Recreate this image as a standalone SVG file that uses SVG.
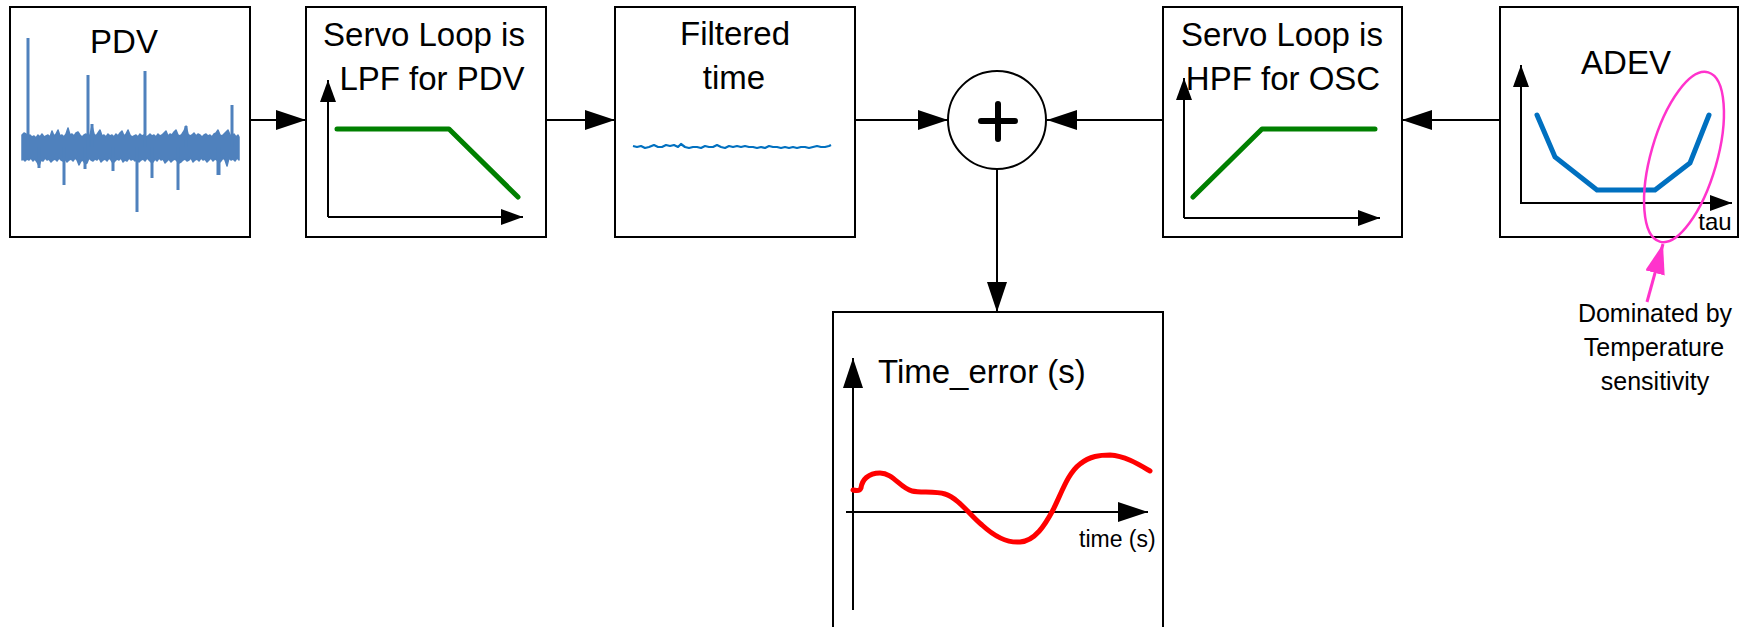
<svg xmlns="http://www.w3.org/2000/svg" width="1742" height="627" viewBox="0 0 1742 627">
  <style>
    .box { fill: #ffffff; stroke: #000000; stroke-width: 2; }
    .lbl { font-family: "Liberation Sans", Arial, sans-serif; font-size: 33px; fill: #000000; text-anchor: middle; }
    .small { font-family: "Liberation Sans", Arial, sans-serif; font-size: 24px; fill: #000000; }
    .note { font-family: "Liberation Sans", Arial, sans-serif; font-size: 25px; fill: #000000; text-anchor: middle; }
    .conn { fill: none; stroke: #000000; stroke-width: 2; marker-end: url(#ah); }
    .axis { fill: none; stroke: #000000; stroke-width: 2; marker-end: url(#ahs); }
    .axisL { fill: none; stroke: #000000; stroke-width: 2; marker-end: url(#ah); }
    .green { fill: none; stroke: #008000; stroke-width: 5; stroke-linecap: round; stroke-linejoin: round; }
    .blue { fill: none; stroke: #0070C0; stroke-width: 5; stroke-linecap: round; stroke-linejoin: miter; }
  </style>
  <defs>
    <marker id="ah" viewBox="0 0 30 20" refX="30" refY="10" markerWidth="30" markerHeight="20" markerUnits="userSpaceOnUse" orient="auto">
      <path d="M0,0 L30,10 L0,20 z" fill="#000000"/>
    </marker>
    <marker id="ahs" viewBox="0 0 22 16" refX="22" refY="8" markerWidth="22" markerHeight="16" markerUnits="userSpaceOnUse" orient="auto">
      <path d="M0,0 L22,8 L0,16 z" fill="#000000"/>
    </marker>
    <marker id="ahp" viewBox="0 0 30 20" refX="30" refY="10" markerWidth="30" markerHeight="20" markerUnits="userSpaceOnUse" orient="auto">
      <path d="M0,0 L30,10 L0,20 z" fill="#FF33CC"/>
    </marker>
  </defs>

  <!-- connectors -->
  <g id="connectors">
    <path class="conn" d="M251,120 H306"/>
    <path class="conn" d="M546,120 H615"/>
    <path class="conn" d="M855,120 H948"/>
    <path class="conn" d="M1163,120 H1047"/>
    <path class="conn" d="M1500,120 H1402"/>
    <path class="conn" d="M997,169 V312"/>
  </g>

  <!-- PDV: raw packet delay variation -->
  <g id="pdv">
    <rect class="box" x="10" y="7" width="240" height="230"/>
    <text class="lbl" x="124" y="53">PDV</text>
    <polygon fill="#4F81BD" stroke="#4F81BD" stroke-width="1.5" stroke-linejoin="round" points="22,135 24,133 26,134 28,136 30,135 32,137 34,136 36,138 38,135 40,137 42,134 44,137 46,136 48,135 50,137 52,131 54,136 56,134 58,130 60,136 62,135 64,137 66,134 68,128 70,135 72,134 74,136 76,133 78,132 80,135 82,137 84,135 86,134 88,136 90,135 92,126 94,134 96,136 98,133 100,130 102,136 104,135 106,137 108,134 110,136 112,135 114,137 116,134 118,136 120,133 122,131 124,136 126,134 128,130 130,135 132,137 134,136 136,135 138,137 140,134 142,136 144,135 146,137 148,136 150,134 152,136 154,135 156,137 158,134 160,136 162,135 164,133 166,131 168,136 170,134 172,135 174,132 176,130 178,135 180,136 182,134 184,131 186,126 188,134 190,136 192,135 194,133 196,136 198,134 200,135 202,137 204,135 206,134 208,136 210,135 212,137 214,134 216,133 218,130 220,135 222,136 224,134 226,132 228,130 230,135 232,136 234,134 236,137 238,135 239,137 239,160 237,158 235,161 233,159 231,160 229,158 227,166 225,160 223,158 221,161 219,163 217,160 215,159 213,161 211,158 209,160 207,162 205,159 203,160 201,158 199,161 197,159 195,160 193,162 191,158 189,160 187,161 185,159 183,160 181,162 179,163 177,161 175,159 173,160 171,162 169,159 167,161 165,163 163,159 161,160 159,158 157,161 155,159 153,162 151,162 149,160 147,158 145,161 143,159 141,160 139,162 137,159 135,161 133,159 131,160 129,158 127,161 125,160 123,162 121,158 119,160 117,159 115,161 113,163 111,160 109,158 107,161 105,159 103,160 101,162 99,158 97,160 95,159 93,161 91,160 89,158 87,163 85,164 83,160 81,161 79,165 77,160 75,158 73,161 71,159 69,160 67,162 65,159 63,161 61,160 59,158 57,161 55,159 53,160 51,162 49,159 47,160 45,158 43,161 41,160 39,166 37,162 35,159 33,161 31,158 29,160 27,159 25,161 23,159 22,160"/>
    <path fill="none" stroke="#4F81BD" stroke-width="3" d="M28,38 V147 M88,75 V147 M92,124 V147 M145,71 V147 M186,126 V147 M232,105 V147 M64,147 V185 M137,147 V212 M178,147 V190 M218,147 V175 M152,147 V178 M85,147 V169 M113,147 V171 M219,147 V175 M39,147 V168"/>
  </g>

  <!-- low-pass response of the servo loop -->
  <g id="lpf">
    <rect class="box" x="306" y="7" width="240" height="230"/>
    <text class="lbl" x="424" y="46">Servo Loop is</text>
    <text class="lbl" x="432" y="90">LPF for PDV</text>
    <path class="axis" d="M328,217 V80"/>
    <path class="axis" d="M328,217 H523"/>
    <polyline class="green" points="337,129 449,129 518,197"/>
  </g>

  <!-- filtered time -->
  <g id="filtered">
    <rect class="box" x="615" y="7" width="240" height="230"/>
    <text class="lbl" x="735" y="45">Filtered</text>
    <text class="lbl" x="734" y="89">time</text>
    <path fill="none" stroke="#0070C0" stroke-width="2.2" stroke-linejoin="round" d="M633,146 l4,1 l4,-1 l4,2 l4,-1 l5,-2 l4,2 l4,0 l4,-2 l4,1 l4,-1 l4,2 l3,-3 l4,3 l4,1 l4,-1 l4,0 l4,1 l4,-2 l4,1 l4,0 l4,-2 l4,2 l4,1 l4,-2 l4,1 l4,-1 l4,1 l4,-1 l4,1 l4,0 l4,1 l4,-1 l4,1 l4,-2 l4,1 l4,0 l4,1 l4,-1 l4,1 l4,-1 l4,1 l4,-1 l4,0 l4,1 l4,-1 l4,-1 l4,1 l4,0 l4,-1 l2,-1"/>
  </g>

  <!-- summing junction -->
  <g id="sum">
    <circle cx="997" cy="120" r="49" fill="#ffffff" stroke="#000000" stroke-width="2"/>
    <path d="M981,121 H1015 M998,104 V139" stroke="#000000" stroke-width="6" stroke-linecap="round" fill="none"/>
  </g>

  <!-- high-pass response of the servo loop -->
  <g id="hpf">
    <rect class="box" x="1163" y="7" width="239" height="230"/>
    <text class="lbl" x="1282" y="46">Servo Loop is</text>
    <text class="lbl" x="1283" y="90">HPF for OSC</text>
    <path class="axis" d="M1184,218 V78"/>
    <path class="axis" d="M1184,218 H1380"/>
    <polyline class="green" points="1193,197 1262,129 1375,129"/>
  </g>

  <!-- oscillator Allan deviation -->
  <g id="adev">
    <rect class="box" x="1500" y="7" width="238" height="230"/>
    <text class="lbl" x="1626" y="74">ADEV</text>
    <path class="axis" d="M1521,204 V65"/>
    <path class="axis" d="M1521,203 H1732"/>
    <polyline class="blue" points="1537,115 1555,157 1597,190 1655,190 1690,163 1709,115"/>
    <text class="small" x="1715" y="230" text-anchor="middle">tau</text>
    <ellipse cx="1684" cy="157" rx="33" ry="88" transform="rotate(16 1684 157)" fill="none" stroke="#FF33CC" stroke-width="2.5"/>
  </g>

  <!-- annotation on the long-tau region -->
  <g id="note">
    <path d="M1647,302 L1663,244" fill="none" stroke="#FF33CC" stroke-width="3" marker-end="url(#ahp)"/>
    <text class="note" x="1655" y="322">Dominated by</text>
    <text class="note" x="1654" y="356">Temperature</text>
    <text class="note" x="1655" y="390">sensitivity</text>
  </g>

  <!-- resulting time error -->
  <g id="time-error">
    <rect class="box" x="833" y="312" width="330" height="340"/>
    <path class="axisL" d="M853,610 V358"/>
    <path class="axisL" d="M846,512 H1148"/>
    <text class="lbl" x="878" y="383" style="text-anchor:start">Time_error (s)</text>
    <text class="small" x="1079" y="547" style="font-size:23px">time (s)</text>
    <path fill="none" stroke="#FF0000" stroke-width="5" stroke-linecap="round" stroke-linejoin="round" d="M853,490 C857,491 860,491 861,488 C862,480 868,473 880,473 C893,473 900,488 912,491 C920,493 935,491 945,494 C958,498 970,515 982,525 C995,537 1008,543 1020,542 C1035,541 1045,525 1053,510 C1062,492 1068,473 1080,464 C1090,456 1100,455 1110,455 C1125,456 1138,464 1150,471"/>
  </g>
</svg>
